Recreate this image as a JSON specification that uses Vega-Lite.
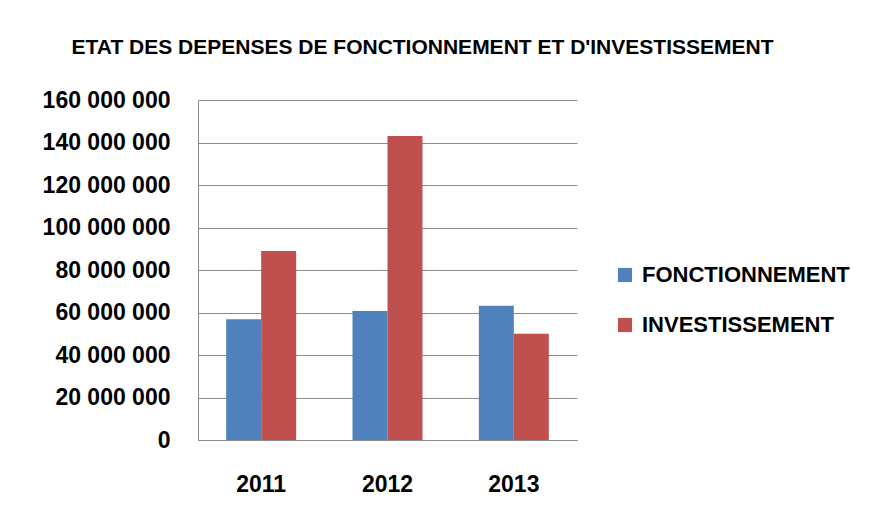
{
  "$schema": "https://vega.github.io/schema/vega-lite/v6.json",
  "autosize": {"type": "none"},
  "padding": {"left": 198, "top": 100, "right": 299, "bottom": 86},
  "width": 379,
  "height": 340,
  "background": "white",
  "config": {
    "locale": {"number": {"decimal": ",", "thousands": " ", "grouping": [3], "currency": ["", " €"]}},
    "view": {"stroke": null},
    "font": "Liberation Sans"
  },
  "title": {
    "text": "ETAT DES DEPENSES DE FONCTIONNEMENT ET D'INVESTISSEMENT",
    "font": "Liberation Sans",
    "fontSize": 21,
    "fontWeight": "bold",
    "color": "black",
    "anchor": "middle",
    "dx": 35,
    "offset": 31
  },
  "data": {
    "values": [
      {"annee": "2011", "type": "FONCTIONNEMENT", "montant": 56800000},
      {"annee": "2011", "type": "INVESTISSEMENT", "montant": 88900000},
      {"annee": "2012", "type": "FONCTIONNEMENT", "montant": 60700000},
      {"annee": "2012", "type": "INVESTISSEMENT", "montant": 143100000},
      {"annee": "2013", "type": "FONCTIONNEMENT", "montant": 63200000},
      {"annee": "2013", "type": "INVESTISSEMENT", "montant": 50000000}
    ]
  },
  "mark": {"type": "bar"},
  "encoding": {
    "x": {
      "field": "annee", "type": "nominal", "title": null,
      "scale": {"paddingInner": 0.446, "paddingOuter": 0.223},
      "axis": {"labelAngle": 0, "labelFontSize": 23, "labelFontWeight": "bold", "labelColor": "black", "ticks": false, "domainColor": "#8c8c8c", "labelPadding": 33}
    },
    "xOffset": {"field": "type", "type": "nominal", "scale": {"paddingInner": 0}},
    "y": {
      "field": "montant", "type": "quantitative", "title": null,
      "scale": {"domain": [0, 160000000], "nice": false},
      "axis": {"values": [0, 20000000, 40000000, 60000000, 80000000, 100000000, 120000000, 140000000, 160000000], "format": ",d", "labelFontSize": 23, "labelFontWeight": "bold", "labelColor": "black", "ticks": false, "domainColor": "#8c8c8c", "gridColor": "#8c8c8c", "labelPadding": 28}
    },
    "color": {
      "field": "type", "type": "nominal", "title": null,
      "scale": {"domain": ["FONCTIONNEMENT", "INVESTISSEMENT"], "range": ["#4F81BD", "#C0504D"]},
      "legend": {"orient": "none", "legendX": 416, "legendY": 164, "symbolType": "square", "symbolSize": 200, "symbolStrokeWidth": 0, "labelFontSize": 22, "labelFontWeight": "bold", "labelColor": "black", "labelOffset": 6, "rowPadding": 28, "labelLimit": 400}
    }
  }
}
